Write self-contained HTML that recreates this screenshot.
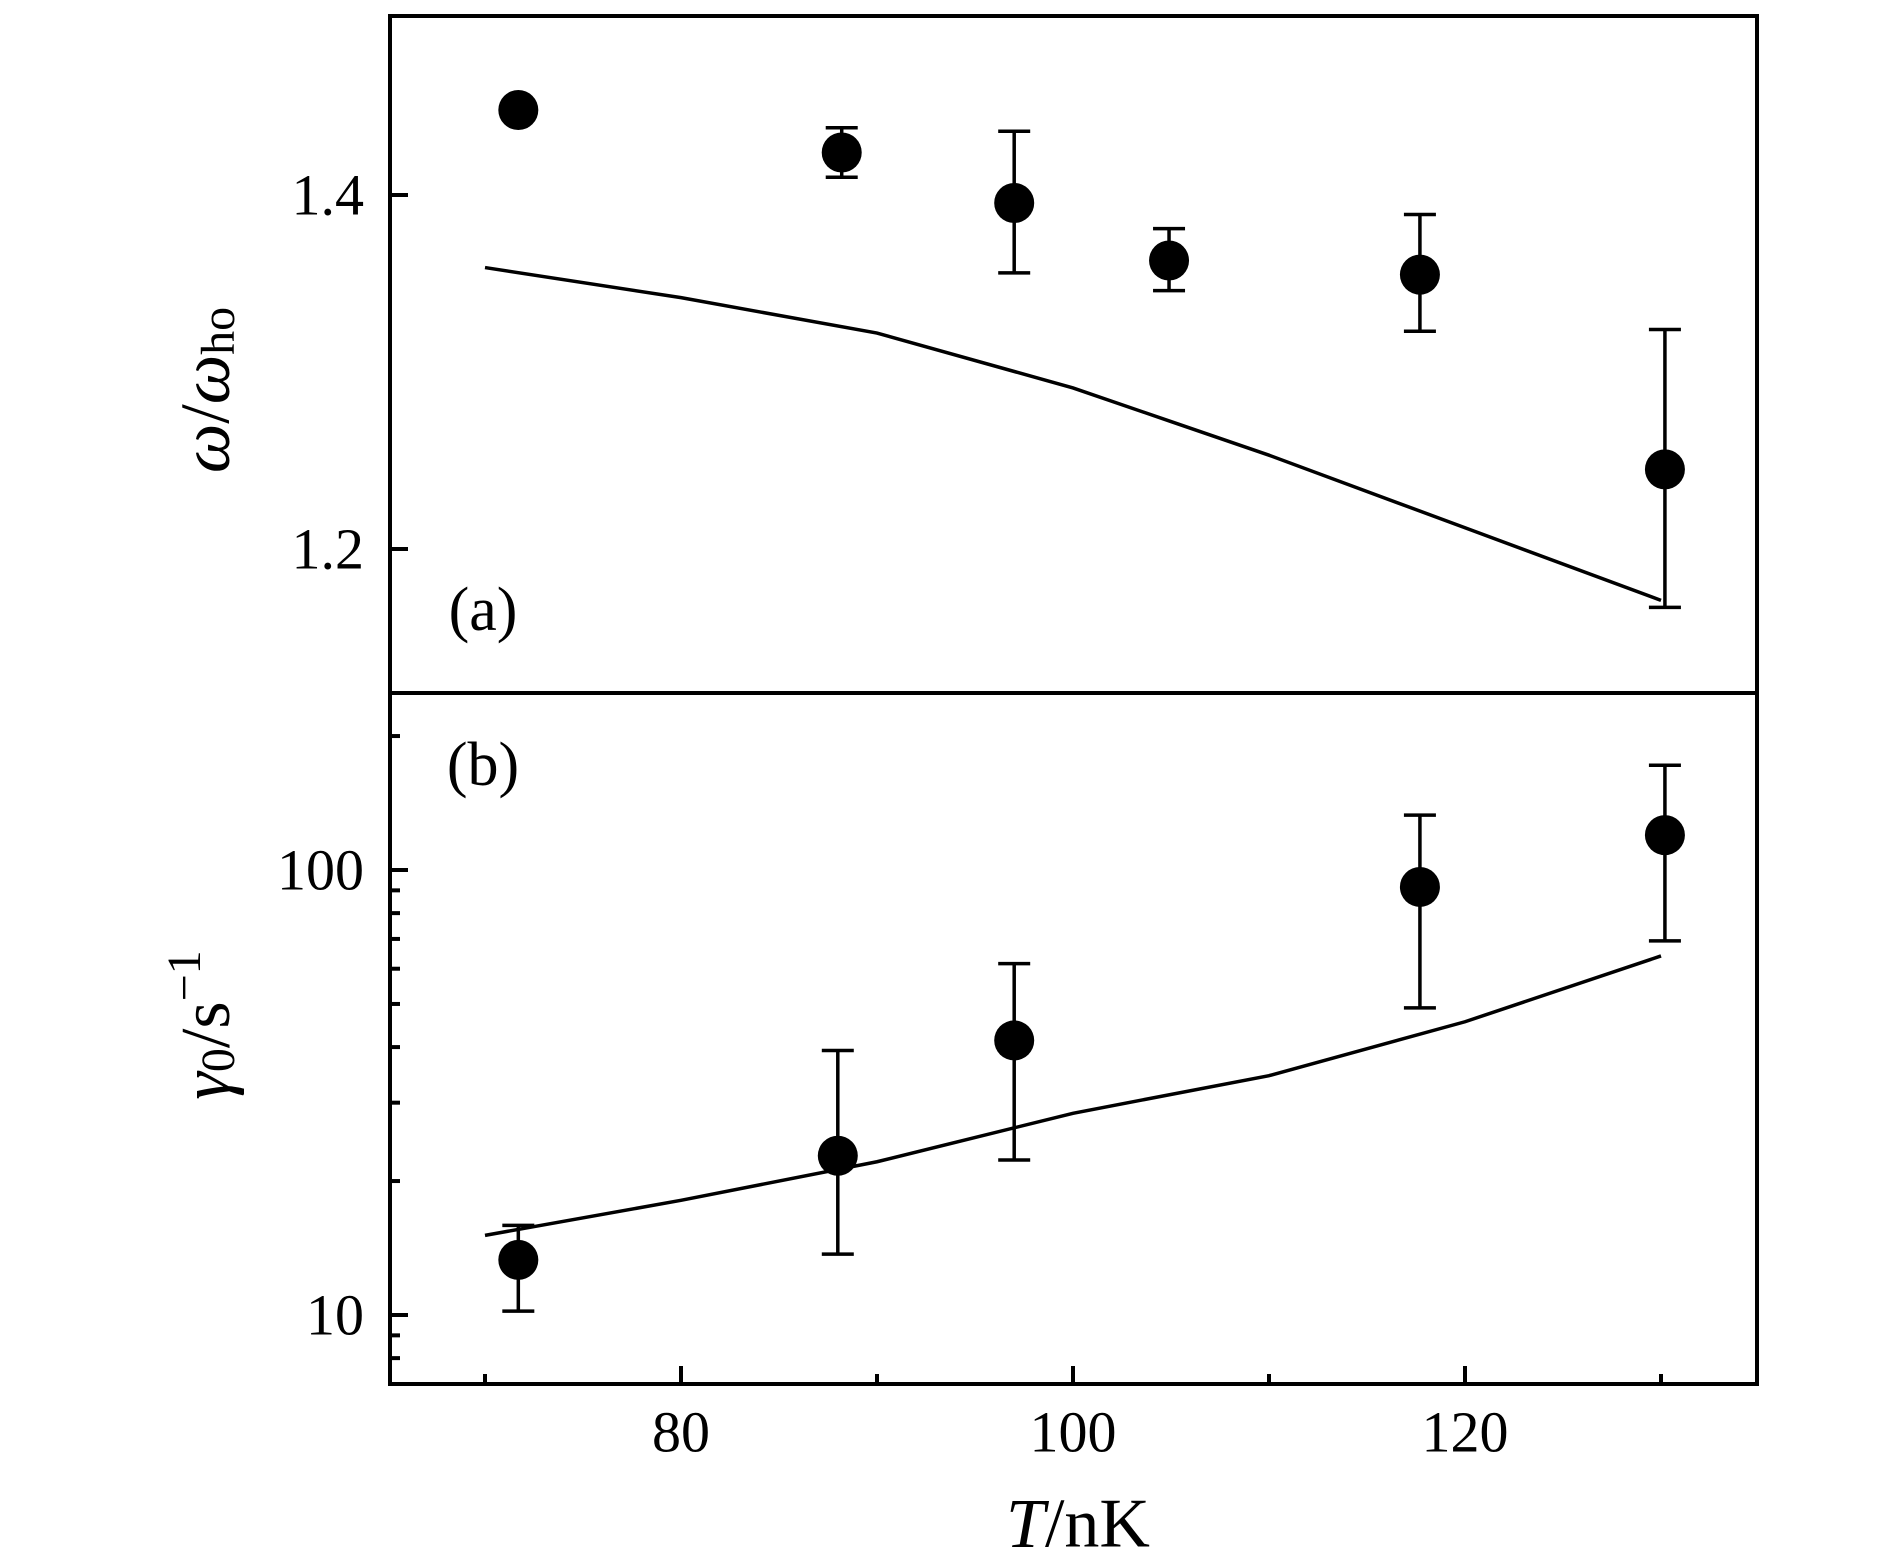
<!DOCTYPE html>
<html><head><meta charset="utf-8"><style>
body{margin:0;background:#fff;}
svg{display:block;font-family:"Liberation Serif",serif;}
</style></head><body>
<svg id="chart" width="1890" height="1559" viewBox="0 0 1890 1559" xmlns="http://www.w3.org/2000/svg"></svg>
<script>
// Panel (a): omega/omega_ho
const freqT = [71.7, 88.2, 97.0, 104.9, 117.7, 130.2];
const freqVal = [1.448, 1.424, 1.3955, 1.363, 1.355, 1.245];
const freqHi = [null, 1.438, 1.436, 1.381, 1.389, 1.324];
const freqLo = [null, 1.410, 1.356, 1.346, 1.323, 1.167];
const freqLineT = [70, 80, 90, 100, 105, 110, 120, 130];
const freqLineVal = [1.359, 1.342, 1.322, 1.291, 1.272, 1.253, 1.212, 1.171];
const freqTicks = [1.2, 1.4];
const freqTickLabels = ["1.2", "1.4"];
// Panel (b): gamma_0 (log)
const dampT = [71.7, 88.0, 97.0, 117.7, 130.2];
const dampVal = [13.3, 22.8, 41.4, 91.6, 119.8];
const dampHi = [15.9, 39.3, 61.6, 132.8, 172];
const dampLo = [10.2, 13.7, 22.3, 49.0, 69.3];
const dampLineT = [70, 80, 90, 100, 110, 120, 130];
const dampLineVal = [15.1, 18.1, 22.1, 28.4, 34.5, 45.6, 64.1];
const dampMajor = [10, 100];
const dampMajorLabels = ["10", "100"];
const dampMinor = [8, 9, 20, 30, 40, 50, 60, 70, 80, 90, 200];
const xMajor = [80, 100, 120];
const xMajorLabels = ["80", "100", "120"];
const xMinor = [70, 90, 110, 130];

const L = 390, R = 1757, T0 = 16, MID = 693, B = 1384;
const sx = t => 681 + (t - 80) * 19.6;
const syA = v => 195 - (v - 1.4) * (549 - 195) / 0.2;
const syB = v => 870 - (Math.log10(v) - 2) * (1315 - 870);

const svg = document.getElementById('chart');
const NS = 'http://www.w3.org/2000/svg';
function mk(tag, attrs, parent) {
  const e = document.createElementNS(NS, tag);
  for (const k in attrs) e.setAttribute(k, attrs[k]);
  (parent || svg).appendChild(e);
  return e;
}
function txt(s, x, y, size, anchor, parent) {
  const e = mk('text', {x: x, y: y, 'font-size': size, 'text-anchor': anchor || 'middle', 'dominant-baseline': 'central', fill: '#000'}, parent);
  e.textContent = s;
  return e;
}

let f = mk('rect', {x: L, y: T0, width: R - L, height: B - T0, fill: 'none', stroke: '#000', 'stroke-width': 4});


let d = mk('line', {x1: L, x2: R, y1: MID, y2: MID, stroke: '#000', 'stroke-width': 4});



freqTicks.forEach((v, i) => {
  const y = syA(v);
  const t = mk('line', {x1: L, x2: L + 18, y1: y, y2: y, stroke: '#000', 'stroke-width': 4});
  
  
  const lb = txt(freqTickLabels[i], 364, y, 58, 'end');
  
  
});
dampMajor.forEach((v, i) => {
  const y = syB(v);
  const t = mk('line', {x1: L, x2: L + 18, y1: y, y2: y, stroke: '#000', 'stroke-width': 4});
  
  
  const lb = txt(dampMajorLabels[i], 364, y, 58, 'end');
  
  
});
dampMinor.forEach(v => {
  const y = syB(v);
  const t = mk('line', {x1: L, x2: L + 10, y1: y, y2: y, stroke: '#000', 'stroke-width': 4});
  
  
});
xMajor.forEach((v, i) => {
  const x = sx(v);
  const t = mk('line', {x1: x, x2: x, y1: B, y2: B - 18, stroke: '#000', 'stroke-width': 4});
  
  
  const lb = txt(xMajorLabels[i], x, 1432, 58);
  
  
});
xMinor.forEach(v => {
  const x = sx(v);
  const t = mk('line', {x1: x, x2: x, y1: B, y2: B - 10, stroke: '#000', 'stroke-width': 4});
  
  
});

let pa = mk('polyline', {points: freqLineT.map((t, i) => sx(t) + ',' + syA(freqLineVal[i])).join(' '), fill: 'none', stroke: '#000', 'stroke-width': 3.5});


let pb = mk('polyline', {points: dampLineT.map((t, i) => sx(t) + ',' + syB(dampLineVal[i])).join(' '), fill: 'none', stroke: '#000', 'stroke-width': 3.5});



function point(x, y, yh, yl, name) {
  const g = mk('g', {});
  
  
  if (yh !== null) {
    mk('line', {x1: x, x2: x, y1: yh, y2: yl, stroke: '#000', 'stroke-width': 3.5}, g);
    mk('line', {x1: x - 16, x2: x + 16, y1: yh, y2: yh, stroke: '#000', 'stroke-width': 3.5}, g);
    mk('line', {x1: x - 16, x2: x + 16, y1: yl, y2: yl, stroke: '#000', 'stroke-width': 3.5}, g);
  }
  mk('ellipse', {cx: x, cy: y, rx: 20, ry: 20, fill: '#000'}, g);
}
freqT.forEach((t, i) => point(sx(t), syA(freqVal[i]), freqHi[i] === null ? null : syA(freqHi[i]), freqLo[i] === null ? null : syA(freqLo[i]), 'data-point-a'));
dampT.forEach((t, i) => point(sx(t), syB(dampVal[i]), syB(dampHi[i]), syB(dampLo[i]), 'data-point-b'));

let la = txt('(a)', 483, 610, 62);


let lbb = txt('(b)', 483, 765, 62);



let xt = mk('text', {x: 1078, y: 1524, 'font-size': 70, 'text-anchor': 'middle', 'dominant-baseline': 'central'});


xt.innerHTML = '<tspan font-style="italic">T</tspan>/nK';
let ya = mk('text', {x: 0, y: 0, 'font-size': 70, 'text-anchor': 'middle', 'dominant-baseline': 'central', transform: 'translate(206,390) rotate(-90)'});


ya.innerHTML = '<tspan font-style="italic">ω</tspan>/<tspan font-style="italic">ω</tspan><tspan font-size="48" dy="12">ho</tspan>';
let yb = mk('text', {x: 0, y: 0, 'font-size': 70, 'text-anchor': 'middle', 'dominant-baseline': 'central', transform: 'translate(206,1025) rotate(-90)'});


yb.innerHTML = '<tspan font-style="italic">γ</tspan><tspan font-size="48" dy="12">0</tspan><tspan dy="-12">/s</tspan><tspan font-size="48" dy="-22">−1</tspan>';
</script>
</body></html>
